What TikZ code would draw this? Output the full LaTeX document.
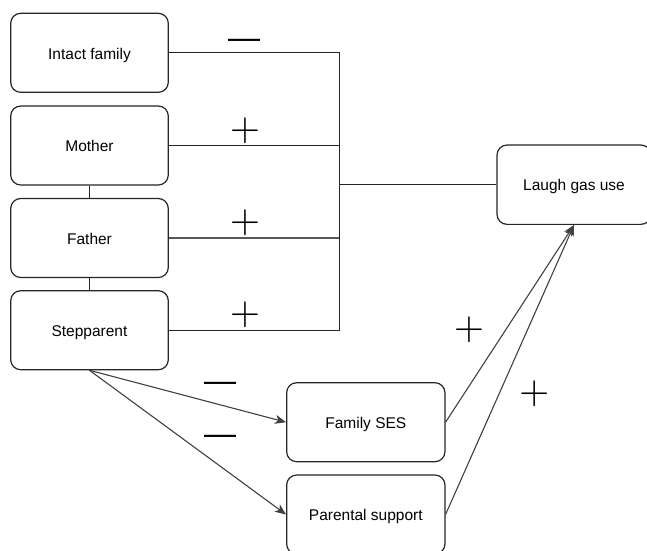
\documentclass[tikz,border=0pt]{standalone}
\usepackage{fontspec}
\setmainfont{Liberation Sans}
\usetikzlibrary{arrows.meta}
\begin{document}
\begin{tikzpicture}[x=1pt,y=-1pt,
  box/.style={draw=black!85, line width=1.2pt, rounded corners=10pt, fill=white,
    minimum width=157.6pt, minimum height=79pt, inner sep=0pt,
    text height=12.5pt, text depth=0pt,
    font=\fontsize{15.5}{18}\selectfont},
  conn/.style={draw=black!85, line width=1.2pt},
  arr/.style={draw=black!75, line width=1.1pt, -{Stealth[length=11pt,width=9pt,inset=3pt]}},
  plussign/.style={inner sep=0pt, scale=3.9, font=\fontsize{10}{12}\selectfont},
  minussign/.style={inner sep=0pt, font=\fontsize{32}{34}\selectfont}]
\useasboundingbox (0,0) rectangle (647,550);
\node[box] (intact) at (89.5,52.8) {Intact family};
\node[box] (mother) at (89.5,145.5) {Mother};
\node[box] (father) at (89.5,238) {Father};
\node[box] (step) at (89.5,330.2) {Stepparent};
\node[box, minimum width=154pt, minimum height=79.3pt] (laugh) at (574,184.7) {Laugh gas use};
\node[box, minimum width=158.3pt] (ses) at (365.8,422.2) {Family SES};
\node[box, minimum width=158.3pt] (ps) at (365.8,514.5) {Parental support};
\coordinate (bus) at (339.3,184.7);
\draw[conn] (mother.south) -- (father.north);
\draw[conn] (father.south) -- (step.north);
\draw[conn] (intact.east) -| (bus);
\draw[conn] (step.east) -| (bus);
\draw[conn] (mother.east) -- (mother.east -| bus);
\draw[conn, draw=black!65] (father.east) -- (father.east -| bus);
\draw[conn] (bus) -- (laugh.west);
\draw[arr] (step.south) -- (ses.west);
\draw[arr] (step.south) -- (ps.west);
\draw[arr] (ses.east) -- (laugh.south);
\draw[arr] (ps.east) -- (laugh.south);
\node[minussign] (m1) at (244,44.3) {—};
\node[plussign] (p1) at (245,130.5) {$+$};
\node[plussign] (p2) at (245,222.7) {$+$};
\node[plussign] (p3) at (245,315) {$+$};
\node[minussign] (m2) at (220,387.3) {—};
\node[minussign] (m3) at (220,440) {—};
\node[plussign] (p4) at (469,330) {$+$};
\node[plussign] (p5) at (534.3,393.3) {$+$};
\end{tikzpicture}
\end{document}
